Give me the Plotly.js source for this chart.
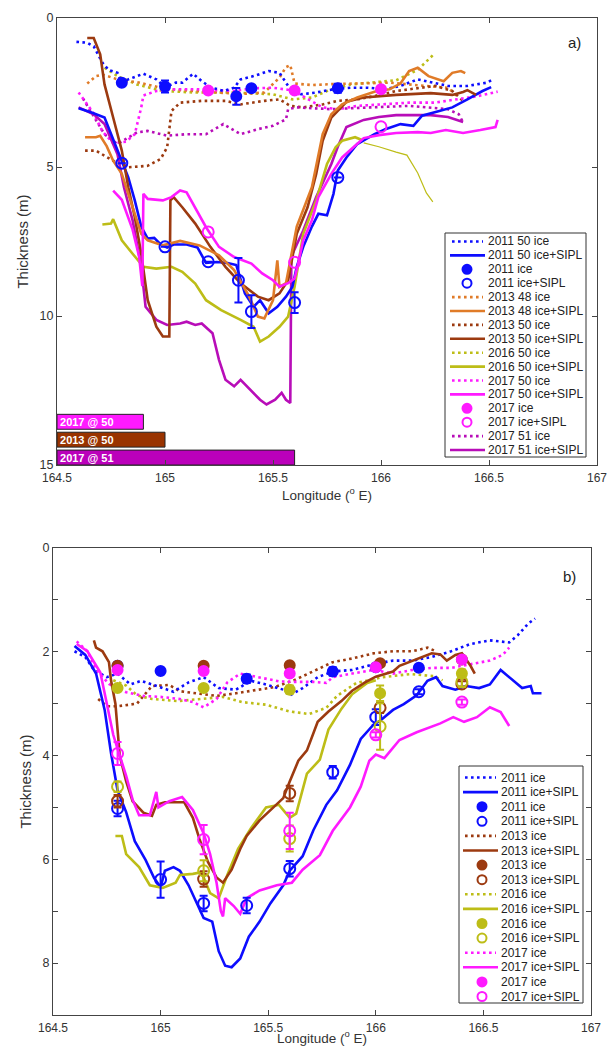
<!DOCTYPE html>
<html><head><meta charset="utf-8">
<script src="https://cdn.plot.ly/plotly-3.0.1.min.js"></script>
<style>html,body{margin:0;padding:0;background:#fff}#chart{width:612px;height:1046px}</style>
</head><body><div id="chart"></div>
<script>
// ---------------- DATA : panel a) (longitude °E, thickness m) ----------------
const a2011_50_ice = [[164.59,0.80],[164.64,0.83],[164.67,0.95],[164.71,1.5],[164.74,1.75],[164.78,1.84],[164.80,2.17],[164.83,2.06],[164.90,1.87],[164.96,2.06],[165.0,2.32],[165.05,2.17],[165.08,2.17],[165.13,1.87],[165.17,2.12],[165.21,2.32],[165.27,2.45],[165.32,2.34],[165.35,2.06],[165.41,1.95],[165.48,1.78],[165.53,1.84],[165.58,2.39],[165.63,2.56],[165.70,2.5],[165.78,2.39],[165.86,2.34],[165.94,2.34],[166.02,2.39],[166.09,2.28],[166.17,2.06],[166.24,2.17],[166.31,2.28],[166.40,2.28],[166.49,2.17],[166.51,2.09]];
const a2011_50_sipl = [[164.60,3.03],[164.66,3.17],[164.72,3.34],[164.75,3.9],[164.80,4.79],[164.83,5.35],[164.86,6.12],[164.89,7.0],[164.92,7.4],[164.95,7.38],[164.98,7.6],[165.01,7.7],[165.04,7.6],[165.10,7.6],[165.15,7.7],[165.19,8.22],[165.24,8.19],[165.29,8.22],[165.33,8.29],[165.37,9.24],[165.41,9.69],[165.44,9.47],[165.48,9.91],[165.52,9.69],[165.56,9.35],[165.59,9.02],[165.61,8.35],[165.64,7.68],[165.68,7.0],[165.71,6.57],[165.75,6.62],[165.78,5.9],[165.80,5.12],[165.84,4.68],[165.89,4.23],[165.97,3.9],[166.02,3.73],[166.09,3.56],[166.15,3.62],[166.19,3.28],[166.27,3.12],[166.33,3.0],[166.40,2.73],[166.47,2.45],[166.51,2.32]];
const a2011_ice_pts = [[164.80,2.17],[165.0,2.30],[165.33,2.63],[165.40,2.36],[165.80,2.36]];
const a2011_ice_err = [0.05,0.2,0.28,0.05,0.15];
const a2011_sipl_pts = [[164.80,4.87],[165.0,7.68],[165.2,8.18],[165.34,8.8],[165.40,9.85],[165.60,9.55],[165.80,5.35]];
const a2011_sipl_err = [0,0,0,0.75,0.55,0.35,0];
const a2013_48_ice = [[164.64,2.2],[164.68,1.95],[164.71,1.9],[164.75,2.0],[164.80,2.1],[164.87,2.15],[164.95,2.3],[165.01,2.39],[165.14,2.45],[165.25,2.5],[165.35,2.55],[165.46,2.5],[165.53,2.0],[165.56,1.65],[165.58,1.58],[165.60,2.2],[165.68,2.25],[165.77,2.22],[165.86,2.2],[165.95,2.17],[166.04,2.17],[166.13,2.23],[166.22,2.28],[166.31,2.34],[166.36,2.67]];
const a2013_48_sipl = [[164.63,4.0],[164.68,4.0],[164.70,3.95],[164.73,4.3],[164.76,4.79],[164.80,5.23],[164.85,6.35],[164.89,7.24],[164.92,7.46],[164.99,7.63],[165.07,7.48],[165.16,7.63],[165.25,7.96],[165.32,8.46],[165.39,9.35],[165.43,10.02],[165.46,10.08],[165.50,9.47],[165.52,8.13],[165.53,9.02],[165.56,8.9],[165.58,8.13],[165.61,7.0],[165.68,5.68],[165.73,3.9],[165.77,3.23],[165.82,2.9],[165.89,2.67],[165.98,2.45],[166.04,2.39],[166.09,2.2],[166.13,1.78],[166.17,1.67],[166.22,1.95],[166.29,2.12],[166.33,1.84],[166.37,1.78],[166.39,1.85]];
const a2013_50_ice = [[164.63,4.45],[164.68,4.45],[164.76,4.79],[164.83,5.01],[164.92,4.96],[164.98,4.73],[165.01,4.34],[165.03,3.12],[165.07,2.84],[165.17,2.78],[165.28,2.78],[165.35,2.9],[165.46,2.78],[165.53,2.73],[165.58,2.95],[165.64,3.0],[165.73,2.9],[165.80,2.78],[165.89,2.73],[165.97,2.62],[166.07,2.45],[166.18,2.34],[166.25,2.28],[166.33,2.45],[166.38,2.78]];
const a2013_50_sipl = [[164.64,0.67],[164.67,0.67],[164.70,1.22],[164.72,2.23],[164.76,3.34],[164.80,4.45],[164.83,5.68],[164.86,6.68],[164.89,7.91],[164.92,9.47],[164.96,10.36],[164.99,10.69],[165.02,10.69],[165.025,6.12],[165.04,6.01],[165.08,6.35],[165.14,6.9],[165.21,7.68],[165.28,8.35],[165.35,8.9],[165.43,9.35],[165.48,9.47],[165.53,9.24],[165.57,8.8],[165.61,7.24],[165.66,6.35],[165.70,5.23],[165.73,4.12],[165.77,3.34],[165.84,2.81],[165.92,2.67],[166.07,2.58],[166.23,2.52],[166.33,2.58],[166.38,2.48],[166.40,2.42],[166.44,2.58]];
const a2016_50_ice = [[164.72,1.67],[164.78,1.95],[164.87,2.23],[164.99,2.45],[165.14,2.5],[165.32,2.5],[165.50,2.56],[165.59,2.73],[165.68,2.67],[165.76,2.42],[165.86,2.23],[165.92,2.19],[166.07,2.09],[166.17,1.74],[166.25,1.18]];
const a2016_50_sipl = [[164.71,6.93],[164.75,6.9],[164.76,6.75],[164.80,7.46],[164.85,7.91],[164.90,8.35],[164.96,8.41],[165.03,8.35],[165.08,8.52],[165.14,8.91],[165.19,9.47],[165.26,9.8],[165.35,10.13],[165.41,10.36],[165.44,10.86],[165.48,10.69],[165.53,10.36],[165.57,10.02],[165.60,9.02],[165.64,7.24],[165.70,6.12],[165.75,4.9],[165.79,4.34],[165.82,4.12],[165.88,4.0],[165.92,4.12]];
const a2016_50_tail = [[165.92,4.19],[165.99,4.32],[166.07,4.5],[166.12,4.6],[166.17,5.2],[166.21,5.87],[166.24,6.17]];
const a2017_50_ice = [[164.60,2.5],[164.67,3.2],[164.71,3.8],[164.76,4.2],[164.82,4.15],[164.86,3.9],[164.89,3.0],[164.90,2.6],[164.96,2.45],[165.05,2.39],[165.14,2.39],[165.23,2.43],[165.32,2.45],[165.41,2.36],[165.50,2.34],[165.59,2.43],[165.68,2.78],[165.73,3.0],[165.80,3.06],[165.89,2.95],[166.0,2.9],[166.13,2.84],[166.25,2.84],[166.36,2.73],[166.45,2.62],[166.54,2.47]];
const a2017_50_sipl = [[164.76,5.79],[164.80,6.1],[164.85,7.1],[164.88,8.0],[164.895,9.0],[164.90,5.9],[164.92,6.07],[164.99,6.12],[165.03,6.01],[165.07,5.79],[165.10,5.85],[165.14,6.35],[165.19,7.02],[165.25,7.68],[165.32,8.02],[165.40,8.24],[165.45,8.57],[165.50,8.8],[165.53,9.02],[165.57,8.9],[165.60,8.74],[165.62,8.13],[165.64,7.46],[165.68,6.79],[165.71,6.01],[165.77,5.23],[165.82,4.68],[165.88,4.29],[165.92,4.03],[165.99,3.93],[166.07,3.86],[166.17,3.83],[166.23,3.86],[166.30,3.76],[166.38,3.86],[166.46,3.76],[166.53,3.66],[166.54,3.42]];
const a2017_ice_pts = [[165.2,2.43],[165.6,2.43],[166.0,2.39]];
const a2017_sipl_pts = [[165.2,7.18],[165.6,8.2],[166.0,3.65]];
const a2017_51_ice = [[164.62,2.7],[164.67,3.3],[164.72,3.9],[164.78,4.23],[164.83,4.0],[164.87,3.84],[164.92,3.79],[165.01,3.95],[165.10,3.9],[165.19,3.9],[165.27,3.56],[165.35,3.9],[165.43,3.73],[165.50,3.62],[165.56,3.4],[165.57,3.06],[165.61,3.0],[165.77,3.06],[165.95,3.0],[166.13,2.95],[166.31,3.06],[166.36,3.23],[166.38,3.5]];
const a2017_51_sipl = [[164.60,3.0],[164.67,3.23],[164.72,3.56],[164.78,4.57],[164.81,5.68],[164.85,6.79],[164.89,8.35],[164.91,9.69],[164.96,10.13],[165.01,10.3],[165.07,10.25],[165.10,10.19],[165.14,10.3],[165.17,10.25],[165.22,10.58],[165.25,11.47],[165.28,12.14],[165.32,12.36],[165.35,12.14],[165.38,12.36],[165.44,12.81],[165.47,12.97],[165.51,12.81],[165.54,12.58],[165.56,12.81],[165.58,12.92],[165.585,8.0],[165.61,7.6],[165.64,7.13],[165.70,6.01],[165.77,4.9],[165.80,4.32],[165.84,3.66],[165.92,3.42],[165.99,3.32],[166.07,3.26],[166.23,3.26],[166.31,3.32],[166.38,3.49]];
// stacked bars in panel a)
const barLabels = ['2017 @ 50','2013 @ 50','2017 @ 51'];
const barEnds = [164.9, 165.0, 165.6];
const barRows = [13.55, 14.15, 14.75];

// ---------------- DATA : panel b) ----------------
const b2011_ice = [[164.60,1.99],[164.65,2.1],[164.69,2.35],[164.75,2.49],[164.80,2.42],[164.86,2.63],[164.91,2.56],[164.98,2.66],[165.06,2.77],[165.13,2.59],[165.20,2.49],[165.27,2.7],[165.35,2.73],[165.42,2.56],[165.49,2.63],[165.57,2.73],[165.60,2.84],[165.66,2.7],[165.73,2.49],[165.80,2.38],[165.89,2.35],[165.99,2.24],[166.08,2.17],[166.17,2.17],[166.26,2.1],[166.35,1.99],[166.44,1.85],[166.53,1.78],[166.62,1.82],[166.66,1.68],[166.71,1.45],[166.74,1.36]];
const b2011_sipl = [[164.60,1.89],[164.65,2.06],[164.70,2.42],[164.74,3.12],[164.77,3.96],[164.80,4.67],[164.84,5.09],[164.88,5.65],[164.93,6.01],[164.97,6.36],[165.0,6.54],[165.02,6.22],[165.06,6.15],[165.09,6.22],[165.13,6.5],[165.17,6.85],[165.20,7.13],[165.24,7.2],[165.27,7.77],[165.30,8.05],[165.33,8.08],[165.37,7.91],[165.41,7.49],[165.46,7.2],[165.51,6.85],[165.57,6.5],[165.60,6.22],[165.66,5.94],[165.71,5.44],[165.77,4.95],[165.82,4.67],[165.88,4.18],[165.93,3.68],[165.99,3.4],[166.02,3.33],[166.08,3.12],[166.13,3.01],[166.19,2.84],[166.24,2.56],[166.28,2.49],[166.31,2.66],[166.37,2.73],[166.42,2.66],[166.48,2.7],[166.53,2.63],[166.58,2.35],[166.62,2.49],[166.68,2.7],[166.72,2.66],[166.73,2.8],[166.77,2.8]];
const b2011_ice_pts = [[164.80,2.27],[165.0,2.37],[165.40,2.52],[165.80,2.38],[166.0,2.3],[166.20,2.31]];
const b2011_ice_err = [0.05,0.05,0.08,0.08,0.05,0.05];
const b2011_sipl_pts = [[164.80,5.02],[165.0,6.39],[165.2,6.85],[165.4,6.89],[165.6,6.18],[165.8,4.32],[166.0,3.26],[166.2,2.77]];
const b2011_sipl_err = [0.15,0.35,0.15,0.15,0.15,0.12,0.15,0.05];
const b2013_ice = [[164.71,2.91],[164.75,3.05],[164.80,3.05],[164.89,3.0],[164.96,2.66],[165.04,2.64],[165.09,2.76],[165.17,2.8],[165.26,2.85],[165.35,2.8],[165.46,2.72],[165.53,2.68],[165.62,2.55],[165.71,2.38],[165.80,2.2],[165.89,2.13],[165.99,2.03],[166.08,1.99],[166.17,1.99],[166.24,1.92],[166.28,1.99]];
const b2013_sipl = [[164.69,1.78],[164.70,1.92],[164.73,1.99],[164.76,2.2],[164.77,2.56],[164.79,3.0],[164.81,4.0],[164.84,4.5],[164.87,4.88],[164.92,5.1],[164.96,5.16],[164.98,4.95],[165.02,4.9],[165.07,4.9],[165.11,4.9],[165.15,5.2],[165.18,5.6],[165.22,6.05],[165.26,6.35],[165.29,6.45],[165.33,6.2],[165.37,5.8],[165.40,5.55],[165.46,5.25],[165.51,5.05],[165.57,4.82],[165.60,4.5],[165.64,4.1],[165.68,3.9],[165.73,3.35],[165.78,3.15],[165.84,2.95],[165.89,2.75],[165.95,2.59],[166.0,2.48],[166.08,2.38],[166.11,2.27],[166.17,2.17],[166.22,2.1],[166.26,2.03],[166.30,2.05],[166.33,2.17],[166.37,2.06],[166.40,2.03],[166.44,2.27],[166.46,2.42]];
const b2013_ice_pts = [[164.8,2.27],[165.2,2.27],[165.6,2.26],[166.02,2.22],[166.4,2.15]];
const b2013_sipl_pts = [[164.8,4.88],[165.2,6.38],[165.6,4.73],[166.02,3.08],[166.4,2.62]];
const b2013_sipl_err = [0.12,0.15,0.15,0.1,0.05];
const b2016_ice = [[164.78,2.55],[164.81,2.6],[164.84,2.65],[164.89,2.84],[164.96,2.91],[165.08,2.95],[165.18,2.91],[165.29,2.87],[165.38,2.97],[165.49,3.02],[165.60,3.15],[165.69,3.2],[165.77,3.08],[165.82,2.85],[165.91,2.6],[166.03,2.49],[166.16,2.43],[166.27,2.47],[166.31,2.55]];
const b2016_sipl = [[164.79,5.55],[164.82,5.55],[164.84,5.9],[164.90,6.15],[164.95,6.5],[165.01,6.55],[165.07,6.45],[165.09,6.3],[165.15,6.28],[165.19,6.25],[165.23,6.65],[165.27,6.75],[165.31,6.3],[165.36,5.8],[165.42,5.4],[165.49,5.0],[165.55,4.95],[165.60,5.2],[165.63,5.12],[165.68,4.35],[165.74,4.08],[165.78,3.5],[165.84,3.1],[165.89,2.82],[165.96,2.6],[166.0,2.55]];
const b2016_ice_pts = [[164.8,2.7],[165.2,2.7],[165.6,2.73],[166.02,2.8],[166.4,2.42]];
const b2016_ice_err = [0.05,0.05,0.08,0.15,0.08];
const b2016_sipl_pts = [[164.8,4.6],[165.2,6.22],[165.6,5.6],[166.02,3.44],[166.4,2.58]];
const b2016_sipl_err = [0.1,0.2,0.25,0.45,0.1];
const b2017_ice = [[164.61,1.8],[164.66,1.99],[164.70,2.34],[164.76,2.62],[164.84,2.78],[164.92,2.85],[165.0,2.87],[165.09,2.91],[165.15,2.97],[165.20,3.07],[165.26,2.91],[165.31,2.59],[165.37,2.42],[165.46,2.5],[165.55,2.57],[165.62,2.58],[165.71,2.58],[165.77,2.6],[165.80,2.49],[165.89,2.42],[165.99,2.35],[166.08,2.42],[166.17,2.35],[166.26,2.31],[166.35,2.31],[166.44,2.24],[166.53,2.17],[166.59,2.06],[166.62,1.92]];
const b2017_sipl = [[164.61,1.85],[164.66,1.99],[164.72,2.4],[164.75,3.0],[164.78,3.6],[164.80,3.87],[164.84,4.39],[164.87,4.85],[164.90,5.15],[164.95,5.15],[164.98,4.7],[164.99,5.0],[165.04,4.88],[165.10,4.8],[165.15,5.05],[165.20,5.5],[165.23,5.9],[165.26,6.45],[165.28,7.0],[165.29,7.1],[165.30,6.75],[165.34,6.9],[165.37,7.05],[165.40,6.75],[165.46,6.6],[165.54,6.5],[165.61,6.45],[165.66,6.2],[165.74,5.92],[165.80,5.45],[165.88,5.0],[165.93,4.6],[165.97,4.1],[166.0,3.98],[166.04,4.05],[166.11,3.7],[166.19,3.55],[166.30,3.38],[166.36,3.26],[166.41,3.35],[166.47,3.26],[166.53,3.07],[166.58,3.16],[166.62,3.43]];
const b2017_ice_pts = [[164.8,2.35],[165.2,2.37],[165.6,2.42],[166.0,2.3],[166.4,2.15]];
const b2017_sipl_pts = [[164.8,3.96],[165.2,5.62],[165.6,5.45],[166.0,3.6],[166.4,2.97]];
const b2017_sipl_err = [0.22,0.28,0.35,0.05,0.05];

// ---------------- STYLE ----------------
const W = 612, H = 1046;
const BLUE = '#0d0dff', ORANGE = '#e07b28', BROWN = '#9c3a10', OLIVE = '#bdbd17', MAGENTA = '#ff1aff', PURPLE = '#b80db8';
const FONT = 'Liberation Sans, Arial, Helvetica, sans-serif';

const traces = [];
function xs(d){return d.map(p=>p[0]);}
function ys(d){return d.map(p=>p[1]);}
function line(data, color, kind, name, ax, width){
  traces.push({type:'scatter', mode:'lines', x:xs(data), y:ys(data), name:name,
    xaxis:ax[0], yaxis:ax[1], showlegend:false,
    line:{color:color, width:width||2.6, dash: kind==='dot' ? '2.6px,3.4px' : 'solid'}});
}
function pts(data, err, color, filled, name, ax){
  const t = {type:'scatter', mode:'markers', x:xs(data), y:ys(data), name:name,
    xaxis:ax[0], yaxis:ax[1], showlegend:false,
    marker:{symbol: filled ? 'circle' : 'circle-open', size: filled ? 10 : 11, color:color, line:{color:color, width:2}}};
  if (err) t.error_y = {type:'data', array:err, visible:true, color:color, thickness:2, width:4};
  traces.push(t);
}
const A = ['x','y'], B = ['x2','y2'];

// panel a)
line(a2016_50_tail, OLIVE, 'solid', '2016 50 ice+SIPL', A, 1.2);
line(a2016_50_ice, OLIVE, 'dot', '2016 50 ice', A);
line(a2013_48_ice, ORANGE, 'dot', '2013 48 ice', A);
line(a2013_50_ice, BROWN, 'dot', '2013 50 ice', A);
line(a2017_51_ice, PURPLE, 'dot', '2017 51 ice', A);
line(a2017_50_ice, MAGENTA, 'dot', '2017 50 ice', A);
line(a2011_50_ice, BLUE, 'dot', '2011 50 ice', A);
line(a2017_51_sipl, PURPLE, 'solid', '2017 51 ice+SIPL', A);
line(a2016_50_sipl, OLIVE, 'solid', '2016 50 ice+SIPL', A);
line(a2011_50_sipl, BLUE, 'solid', '2011 50 ice+SIPL', A);
line(a2013_50_sipl, BROWN, 'solid', '2013 50 ice+SIPL', A);
line(a2013_48_sipl, ORANGE, 'solid', '2013 48 ice+SIPL', A);
line(a2017_50_sipl, MAGENTA, 'solid', '2017 50 ice+SIPL', A);
pts(a2011_ice_pts, a2011_ice_err, BLUE, true, '2011 ice', A);
pts(a2011_sipl_pts, a2011_sipl_err, BLUE, false, '2011 ice+SIPL', A);
pts(a2017_ice_pts, null, MAGENTA, true, '2017 ice', A);
pts(a2017_sipl_pts, null, MAGENTA, false, '2017 ice+SIPL', A);
traces.push({type:'bar', orientation:'h', xaxis:'x', yaxis:'y', showlegend:false,
  y:barRows, x:barEnds.map(e=>e-164.5), base:164.5, width:0.5,
  marker:{color:[MAGENTA,'#993300','#bb00bb'], line:{color:'#222', width:1}},
  text:barLabels, textposition:'inside', insidetextanchor:'start', constraintext:'none',
  textfont:{color:'white', size:11, family:FONT, weight:'bold'}, hoverinfo:'text'});

// panel b)
line(b2016_ice, OLIVE, 'dot', '2016 ice', B);
line(b2013_ice, BROWN, 'dot', '2013 ice', B);
line(b2011_ice, BLUE, 'dot', '2011 ice', B);
line(b2017_ice, MAGENTA, 'dot', '2017 ice', B);
line(b2011_sipl, BLUE, 'solid', '2011 ice+SIPL', B);
line(b2016_sipl, OLIVE, 'solid', '2016 ice+SIPL', B);
line(b2013_sipl, BROWN, 'solid', '2013 ice+SIPL', B);
line(b2017_sipl, MAGENTA, 'solid', '2017 ice+SIPL', B);
pts(b2011_ice_pts, b2011_ice_err, BLUE, true, '2011 ice', B);
pts(b2011_sipl_pts, b2011_sipl_err, BLUE, false, '2011 ice+SIPL', B);
pts(b2013_ice_pts, null, BROWN, true, '2013 ice', B);
pts(b2013_sipl_pts, b2013_sipl_err, BROWN, false, '2013 ice+SIPL', B);
pts(b2016_ice_pts, b2016_ice_err, OLIVE, true, '2016 ice', B);
pts(b2016_sipl_pts, b2016_sipl_err, OLIVE, false, '2016 ice+SIPL', B);
pts(b2017_ice_pts, null, MAGENTA, true, '2017 ice', B);
pts(b2017_sipl_pts, b2017_sipl_err, MAGENTA, false, '2017 ice+SIPL', B);

// ---------------- LEGENDS (drawn as layout items) ----------------
const legendA = [
  ['2011 50 ice', BLUE, 'dot'], ['2011 50 ice+SIPL', BLUE, 'solid'], ['2011 ice', BLUE, 'filled'], ['2011 ice+SIPL', BLUE, 'open'],
  ['2013 48 ice', ORANGE, 'dot'], ['2013 48 ice+SIPL', ORANGE, 'solid'], ['2013 50 ice', BROWN, 'dot'], ['2013 50 ice+SIPL', BROWN, 'solid'],
  ['2016 50 ice', OLIVE, 'dot'], ['2016 50 ice+SIPL', OLIVE, 'solid'], ['2017 50 ice', MAGENTA, 'dot'], ['2017 50 ice+SIPL', MAGENTA, 'solid'],
  ['2017 ice', MAGENTA, 'filled'], ['2017 ice+SIPL', MAGENTA, 'open'], ['2017 51 ice', PURPLE, 'dot'], ['2017 51 ice+SIPL', PURPLE, 'solid']];
const legendB = [
  ['2011 ice', BLUE, 'dot'], ['2011 ice+SIPL', BLUE, 'solid'], ['2011 ice', BLUE, 'filled'], ['2011 ice+SIPL', BLUE, 'open'],
  ['2013 ice', BROWN, 'dot'], ['2013 ice+SIPL', BROWN, 'solid'], ['2013 ice', BROWN, 'filled'], ['2013 ice+SIPL', BROWN, 'open'],
  ['2016 ice', OLIVE, 'dot'], ['2016 ice+SIPL', OLIVE, 'solid'], ['2016 ice', OLIVE, 'filled'], ['2016 ice+SIPL', OLIVE, 'open'],
  ['2017 ice', MAGENTA, 'dot'], ['2017 ice+SIPL', MAGENTA, 'solid'], ['2017 ice', MAGENTA, 'filled'], ['2017 ice+SIPL', MAGENTA, 'open']];

const shapes = [], annotations = [];
const PX = x => x / W, PY = y => 1 - y / H;
function buildLegend(items, box, y0, dy, lineX, dotX, textX){
  shapes.push({type:'rect', xref:'paper', yref:'paper', x0:PX(box[0]), x1:PX(box[1]), y0:PY(box[3]), y1:PY(box[2]),
    line:{color:'#333', width:1}, fillcolor:'white', layer:'above'});
  items.forEach((it, i) => {
    const y = y0 + i * dy, col = it[1], k = it[2];
    if (k === 'dot' || k === 'solid') {
      const xa = k === 'dot' ? lineX[0] + 2 : lineX[0], xb = k === 'dot' ? lineX[1] - 2 : lineX[1];
      shapes.push({type:'line', xref:'paper', yref:'paper', x0:PX(xa), x1:PX(xb), y0:PY(y), y1:PY(y),
        line:{color:col, width:2.6, dash: k === 'dot' ? '2.6px,3.4px' : 'solid'}});
    } else {
      shapes.push({type:'circle', xref:'paper', yref:'paper', xsizemode:'pixel', ysizemode:'pixel',
        xanchor:PX(dotX), yanchor:PY(y), x0:-4.5, x1:4.5, y0:-4.5, y1:4.5,
        fillcolor: k === 'filled' ? col : 'rgba(0,0,0,0)', line:{color:col, width:2}});
    }
    annotations.push({xref:'paper', yref:'paper', x:PX(textX), y:PY(y), xanchor:'left', yanchor:'middle',
      text:it[0], showarrow:false, font:{family:FONT, size:12, color:'#222'}});
  });
}
buildLegend(legendA, [445, 586, 233, 457], 241.5, 13.9, [450, 485], 467, 486);
buildLegend(legendB, [459, 583, 766, 1003], 777.5, 14.6, [463, 498], 482, 499);

annotations.push({xref:'paper', yref:'paper', x:PX(574), y:PY(43), text:'a)', showarrow:false, xanchor:'center', yanchor:'middle', font:{family:FONT, size:15, color:'#222'}});
annotations.push({xref:'paper', yref:'paper', x:PX(569), y:PY(576), text:'b)', showarrow:false, xanchor:'center', yanchor:'middle', font:{family:FONT, size:15, color:'#222'}});

function xaxis(domain, anchor){
  return {domain:domain, anchor:anchor, range:[164.5,167], tickmode:'array',
    tickvals:[164.5,165,165.5,166,166.5,167], ticktext:['164.5','165','165.5','166','166.5','167'],
    ticks:'inside', ticklen:5, tickcolor:'#444', mirror:'allticks', showline:true, linecolor:'#444', linewidth:1,
    showgrid:false, zeroline:false, tickfont:{family:FONT, size:12, color:'#333'}, ticklabelstandoff:2,
    title:{text:'Longitude (<sup>o</sup> E)', font:{family:FONT, size:13.5, color:'#333'}, standoff:1}};
}
function yaxis(domain, anchor, range, dtick, minorStep){
  const ax = {domain:domain, anchor:anchor, range:range, tickmode:'linear', tick0:0, dtick:dtick,
    ticks:'inside', ticklen:5, tickcolor:'#444', mirror:'allticks', showline:true, linecolor:'#444', linewidth:1,
    showgrid:false, zeroline:false, tickfont:{family:FONT, size:12.5, color:'#333'},
    title:{text:'Thickness (m)', font:{family:FONT, size:15, color:'#333'}, standoff:7}};
  if (minorStep) ax.minor = {tickmode:'linear', tick0:0, dtick:minorStep, ticks:'inside', ticklen:5, tickcolor:'#444', showgrid:false};
  return ax;
}

const layout = {
  width:W, height:H, margin:{l:0, r:0, t:0, b:0}, paper_bgcolor:'white', plot_bgcolor:'white',
  showlegend:false, font:{family:FONT, color:'#333'},
  xaxis: xaxis([57/W, 597/W], 'y'),
  yaxis: yaxis([1-465/H, 1-18/H], 'x', [15,0], 5, 0),
  xaxis2: xaxis([53/W, 591/W], 'y2'),
  yaxis2: yaxis([1-1015/H, 1-548/H], 'x2', [9,0], 2, 1),
  shapes:shapes, annotations:annotations
};
Plotly.newPlot('chart', traces, layout, {displayModeBar:false, responsive:false});
</script></body></html>
